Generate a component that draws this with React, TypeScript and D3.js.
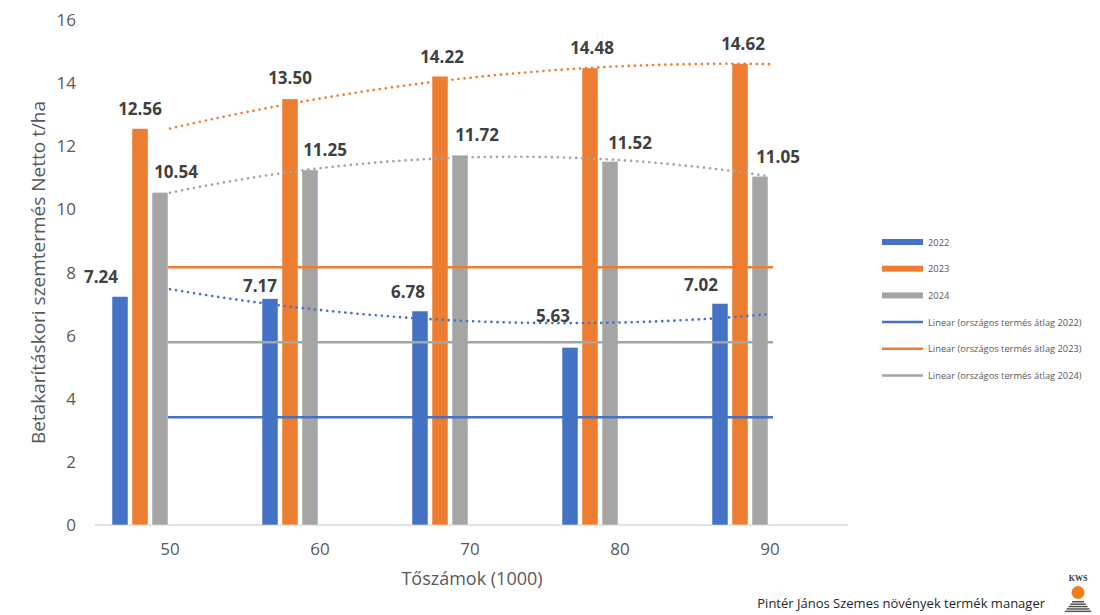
import React from 'react';
import * as d3 from 'd3';

// ---------- data ----------
const categories = ['50', '60', '70', '80', '90'];
const seriesNames = ['2022', '2023', '2024'];
const values2022 = [7.24, 7.17, 6.78, 5.63, 7.02];
const values2023 = [12.56, 13.5, 14.22, 14.48, 14.62];
const values2024 = [10.54, 11.25, 11.72, 11.52, 11.05];
// országos termés átlag (national average) per year
const nationalAvg = [3.41, 8.17, 5.79];
const yTicks = [0, 2, 4, 6, 8, 10, 12, 14, 16];
const legendLabels = [
  '2022',
  '2023',
  '2024',
  'Linear (országos termés átlag 2022)',
  'Linear (országos termés átlag 2023)',
  'Linear (országos termés átlag 2024)',
];

// ---------- style / layout ----------
const colors = ['#4472C4', '#ED7D31', '#A5A5A5'];
// manual data label offsets [dx, dy] relative to bar centre/top
const labelOffsets = [
  [[-19, -19], [-10, -13], [-12, -19], [-17, -31], [-19, -18]],
  [[0, -20], [0, -21], [2, -19], [2, -20], [3, -20]],
  [[16, -20], [15, -20], [17, -20], [20, -18], [18, -19]],
];

const W = 1100;
const H = 615;
const FONT = '"Open Sans", "Noto Sans", sans-serif';

function quadFit(ys: number[]) {
  const n = ys.length;
  const mid = (n - 1) / 2;
  let St2 = 0, St4 = 0, Sy = 0, Sty = 0, St2y = 0;
  ys.forEach((y, i) => {
    const t = i - mid;
    St2 += t * t;
    St4 += t * t * t * t;
    Sy += y;
    Sty += t * y;
    St2y += t * t * y;
  });
  const b = Sty / St2;
  const c = (n * St2y - St2 * Sy) / (n * St4 - St2 * St2);
  const a = (Sy - c * St2) / n;
  return (u: number) => {
    const t = u - mid;
    return a + b * t + c * t * t;
  };
}

export default function App() {
  const series = [values2022, values2023, values2024];
  const x = d3.scaleBand<string>().domain(categories).range([95, 845]).padding(0);
  const y = d3.scaleLinear().domain([0, 16]).range([525, 20]);
  const bw = x.bandwidth();
  const slot = 20;
  const nSlots = 6;
  const barW = 16;
  const xc = (i: number) => (x(categories[i]) as number) + bw / 2;
  const step = x.step();

  const line = d3
    .line<[number, number]>()
    .x((d) => d[0])
    .y((d) => d[1]);

  const trendPaths = series.map((vals) => {
    const f = quadFit(vals);
    const pts: [number, number][] = d3
      .range(0, vals.length - 1 + 0.0001, 0.05)
      .map((u) => [xc(0) + u * step, y(f(u))]);
    return line(pts) as string;
  });

  return (
    <svg width={W} height={H} style={{ display: 'block', position: 'absolute', left: 0, top: 0 }}>
      <rect x={0} y={0} width={W} height={H} fill="#ffffff" />

      {/* y tick labels */}
      {yTicks.map((t) => (
        <text
          key={t}
          x={76}
          y={y(t) + 6}
          textAnchor="end"
          fontFamily={FONT}
          fontSize={17}
          fill="#595959"
        >
          {t}
        </text>
      ))}

      {/* y title */}
      <text
        transform={`translate(45, ${(y(0) + y(16)) / 2}) rotate(-90)`}
        textAnchor="middle"
        fontFamily={FONT}
        fontSize={19}
        fill="#595959"
      >
        Betakarításkori szemtermés Netto t/ha
      </text>

      {/* x axis */}
      <line x1={95} x2={848} y1={y(0)} y2={y(0)} stroke="#d9d9d9" strokeWidth={1.5} />
      {categories.map((c, i) => (
        <text
          key={c}
          x={xc(i)}
          y={555}
          textAnchor="middle"
          fontFamily={FONT}
          fontSize={17}
          fill="#595959"
        >
          {c}
        </text>
      ))}
      <text x={472} y={585} textAnchor="middle" fontFamily={FONT} fontSize={18} fill="#595959">
        Tőszámok (1000)
      </text>

      {/* bars */}
      {series.map((vals, s) =>
        vals.map((v, i) => {
          const x0 = xc(i) - (nSlots * slot) / 2 + s * slot + (slot - barW) / 2;
          return (
            <rect
              key={`${s}-${i}`}
              x={x0}
              y={y(v)}
              width={barW}
              height={y(0) - y(v)}
              fill={colors[s]}
              stroke="#ffffff"
              strokeWidth={0.5}
            />
          );
        })
      )}

      {/* national average lines */}
      {nationalAvg.map((v, s) => (
        <line
          key={`avg-${s}`}
          x1={xc(0) - 2}
          x2={xc(categories.length - 1) + 3}
          y1={y(v)}
          y2={y(v)}
          stroke={colors[s]}
          strokeWidth={2.5}
        />
      ))}

      {/* polynomial trendlines */}
      {trendPaths.map((d, s) => (
        <path
          key={`trend-${s}`}
          d={d}
          fill="none"
          stroke={colors[s]}
          strokeWidth={2.6}
          strokeDasharray="0.1 6"
          strokeLinecap="round"
        />
      ))}

      {/* data labels */}
      {series.map((vals, s) =>
        vals.map((v, i) => {
          const bx = xc(i) - (nSlots * slot) / 2 + s * slot + slot / 2;
          const [dx, dy] = labelOffsets[s][i];
          return (
            <text
              key={`lbl-${s}-${i}`}
              x={bx + dx}
              y={y(v) + dy + 6}
              textAnchor="middle"
              fontFamily={FONT}
              fontWeight="bold"
              fontSize={17}
              fill="#404040"
            >
              {v.toFixed(2)}
            </text>
          );
        })
      )}

      {/* legend */}
      {legendLabels.map((lab, i) => {
        const ly = 242 + i * 26.7;
        const s = i % 3;
        const isBar = i < 3;
        return (
          <g key={lab}>
            {isBar ? (
              <rect x={882} y={ly - 3} width={41} height={6} fill={colors[s]} />
            ) : (
              <line x1={882} x2={923} y1={ly} y2={ly} stroke={colors[s]} strokeWidth={2.5} />
            )}
            <text x={928} y={ly + 3.5} fontFamily={FONT} fontSize={9.3} fill="#595959">
              {lab}
            </text>
          </g>
        );
      })}

      {/* footer */}
      <text x={1045} y={608} textAnchor="end" fontFamily={FONT} fontSize={13} fill="#262626">
        Pintér János Szemes növények termék manager
      </text>

      {/* KWS logo */}
      <g>
        <text
          x={1078}
          y={581}
          textAnchor="middle"
          fontFamily='"Liberation Serif", serif'
          fontWeight="bold"
          fontSize={8}
          fill="#333"
        >
          KWS
        </text>
        <circle cx={1078} cy={592.5} r={6.5} fill="#F07D1A" />
        {[0, 1, 2, 3, 4].map((k) => {
          const yy = 601 + k * 2.4;
          const half = 6 + k * 1.8;
          return (
            <rect key={k} x={1078 - half} y={yy} width={half * 2} height={1.5} fill="#555" />
          );
        })}
      </g>
    </svg>
  );
}
